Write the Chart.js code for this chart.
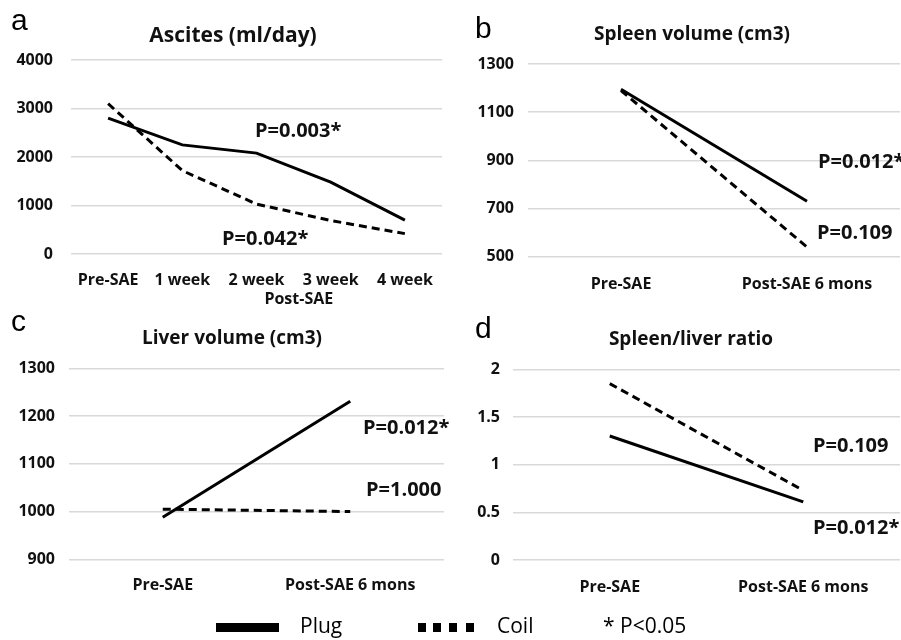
<!DOCTYPE html>
<html>
<head>
<meta charset="utf-8">
<script src="https://cdn.jsdelivr.net/npm/chart.js@4.4.1/dist/chart.umd.min.js"></script>
<style>
  html,body{margin:0;padding:0;background:#fff;}
  #wrap{position:relative;width:901px;height:640px;background:#fff;overflow:hidden;}
  canvas{position:absolute;}
  .letter{position:absolute;font-family:"Liberation Sans",Arial,sans-serif;font-size:30px;line-height:1;color:#000;}
  .leg{position:absolute;font-family:"Open Sans",sans-serif;font-size:21px;line-height:1;color:#000;white-space:nowrap;}
  .blk{position:absolute;background:#000;}
</style>
</head>
<body>
<div id="wrap">
  <canvas id="ca" width="450" height="310" style="left:0;top:0"></canvas>
  <canvas id="cb" width="451" height="310" style="left:450px;top:0"></canvas>
  <canvas id="cc" width="450" height="330" style="left:0;top:310px"></canvas>
  <canvas id="cd" width="451" height="330" style="left:450px;top:310px"></canvas>
  <div class="letter" style="left:11px;top:5px">a</div>
  <div class="letter" style="left:475px;top:13px">b</div>
  <div class="letter" style="left:11px;top:306px">c</div>
  <div class="letter" style="left:475px;top:313px">d</div>
  <div class="blk" style="left:216px;top:623px;width:63px;height:9px"></div>
  <div class="leg" style="left:300px;top:615px">Plug</div>
  <div class="blk" style="left:418px;top:623px;width:8px;height:9px"></div>
  <div class="blk" style="left:433px;top:623px;width:8px;height:9px"></div>
  <div class="blk" style="left:449px;top:623px;width:8px;height:9px"></div>
  <div class="blk" style="left:466px;top:623px;width:8px;height:9px"></div>
  <div class="leg" style="left:497px;top:615px">Coil</div>
  <div class="leg" style="left:603px;top:615px">* P&lt;0.05</div>
</div>
<script>
// ---- data ----
const ascitesLabels = ['Pre-SAE', '1 week', '2 week', '3 week', '4 week'];
const ascitesPlug = [2800, 2250, 2080, 1480, 700];
const ascitesCoil = [3100, 1720, 1030, 690, 420];

const sixMonthLabels = ['Pre-SAE', 'Post-SAE 6 mons'];
const spleenPlug = [1195, 730];
const spleenCoil = [1190, 540];
const liverPlug = [988, 1231];
const liverCoil = [1005, 1000];
const ratioPlug = [1.30, 0.61];
const ratioCoil = [1.85, 0.73];

const seriesNames = ['Plug', 'Coil'];

// ---- styles ----
const TICK_FONT = {family: '"Open Sans", sans-serif', size: 16, weight: 'bold'};
const GRID = '#d9d9d9';
const INK = '#111';

const notePlugin = {
  id: 'pNotes',
  afterDraw(chart, args, opts) {
    const ctx = chart.ctx;
    ctx.save();
    ctx.fillStyle = INK;
    (opts.items || []).forEach(it => {
      ctx.font = (it.weight || 'bold') + ' ' + (it.size || 20) + 'px "Open Sans", sans-serif';
      ctx.textAlign = it.align || 'left';
      ctx.textBaseline = 'middle';
      const x = it.catPos !== undefined ? chart.scales.x.getPixelForValue(it.catPos) : it.x;
      ctx.fillText(it.text, x, it.y);
    });
    ctx.restore();
  }
};

function makeChart(id, cfg) {
  return new Chart(document.getElementById(id), {
    type: 'line',
    data: {
      labels: cfg.labels,
      datasets: [
        {label: seriesNames[0], data: cfg.plug, borderColor: '#000', borderWidth: 3, pointRadius: 0, tension: 0, fill: false},
        {label: seriesNames[1], data: cfg.coil, borderColor: '#000', borderWidth: 3, borderDash: [8, 5], pointRadius: 0, tension: 0, fill: false}
      ]
    },
    options: {
      responsive: false,
      animation: false,
      events: [],
      layout: {padding: cfg.pad},
      plugins: {
        legend: {display: false},
        tooltip: {enabled: false},
        title: {display: false},
        pNotes: {items: [{text: cfg.title, x: cfg.titleX, y: cfg.titleY, size: cfg.titleSize, align: 'center'}].concat(cfg.notes)}
      },
      scales: {
        x: {
          type: 'category',
          offset: true,
          grid: {display: false, drawTicks: false},
          border: {display: false},
          ticks: {color: INK, font: TICK_FONT, padding: cfg.xPad, maxRotation: 0, autoSkip: false},
          afterFit: s => { s.height = cfg.xH; }
        },
        y: {
          min: cfg.min, max: cfg.max,
          grid: {color: GRID, lineWidth: 1.5, drawTicks: false},
          border: {display: false},
          ticks: {color: INK, font: TICK_FONT, padding: cfg.yPad, stepSize: cfg.step, callback: v => String(v)},
          afterFit: s => { s.width = cfg.yW; }
        }
      }
    },
    plugins: [notePlugin]
  });
}

makeChart('ca', {
  labels: ascitesLabels, plug: ascitesPlug, coil: ascitesCoil,
  title: 'Ascites (ml/day)', titleSize: 21, titleX: 233, titleY: 36,
  pad: {left: 0, right: 2, top: 60, bottom: 0},
  min: 0, max: 4000, step: 1000, yW: 71, yPad: 18, xH: 56, xPad: 17,
  notes: [
    {text: 'P=0.003*', x: 255, y: 131},
    {text: 'P=0.042*', x: 222, y: 239},
    {text: 'Post-SAE', catPos: 2.57, y: 299, size: 16, align: 'center'}
  ]
});

makeChart('cb', {
  labels: sixMonthLabels, plug: spleenPlug, coil: spleenCoil,
  title: 'Spleen volume (cm3)', titleSize: 19, titleX: 242, titleY: 35,
  pad: {left: 0, right: 1, top: 64, bottom: 0},
  min: 500, max: 1300, step: 200, yW: 78, yPad: 14, xH: 53.3, xPad: 18,
  notes: [
    {text: 'P=0.012*', x: 368, y: 162},
    {text: 'P=0.109', x: 367, y: 233}
  ]
});

makeChart('cc', {
  labels: sixMonthLabels, plug: liverPlug, coil: liverCoil,
  title: 'Liver volume (cm3)', titleSize: 19, titleX: 232, titleY: 29,
  pad: {left: 0, right: 6, top: 58.3, bottom: 0},
  min: 900, max: 1300, step: 100, yW: 69, yPad: 14, xH: 80.7, xPad: 17,
  notes: [
    {text: 'P=0.012*', x: 363, y: 118},
    {text: 'P=1.000', x: 366, y: 180}
  ]
});

makeChart('cd', {
  labels: sixMonthLabels, plug: ratioPlug, coil: ratioCoil,
  title: 'Spleen/liver ratio', titleSize: 19, titleX: 241, titleY: 30,
  pad: {left: 0, right: 1, top: 59.3, bottom: 0},
  min: 0, max: 2, step: 0.5, yW: 63, yPad: 13, xH: 80, xPad: 18,
  notes: [
    {text: 'P=0.109', x: 363, y: 136},
    {text: 'P=0.012*', x: 363, y: 218}
  ]
});
</script>
</body>
</html>
